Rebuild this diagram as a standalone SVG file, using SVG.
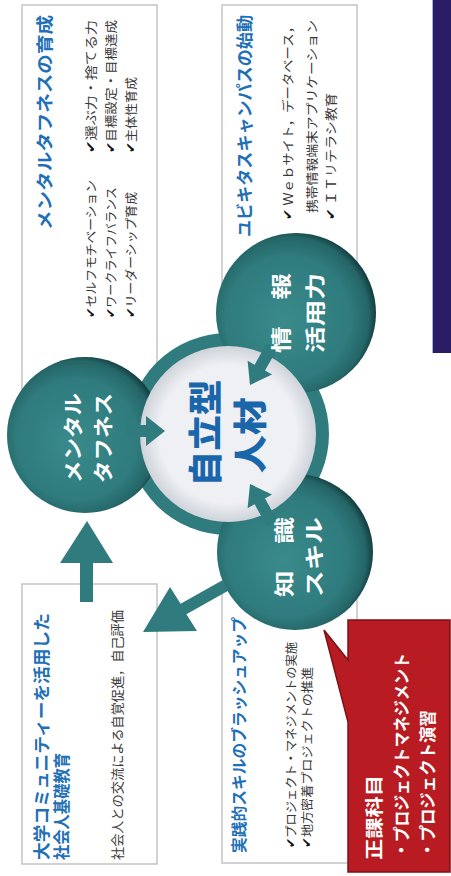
<svg xmlns="http://www.w3.org/2000/svg" width="451" height="876" viewBox="0 0 451 876">
<defs>
<radialGradient id="teal" cx="0.46" cy="0.52" r="0.54" fx="0.42" fy="0.56">
 <stop offset="0" stop-color="#3a8a8c"/>
 <stop offset="0.72" stop-color="#2f7b7d"/>
 <stop offset="0.92" stop-color="#256668"/>
 <stop offset="1" stop-color="#153f41"/>
</radialGradient>
<radialGradient id="light" cx="0.5" cy="0.5" r="0.5">
 <stop offset="0.78" stop-color="#eef0f4"/>
 <stop offset="1" stop-color="#cfd4da"/>
</radialGradient>
<style>
.box{fill:#fff;stroke:#c3c3c3;stroke-width:1.5}
.t{font-family:"Noto Sans CJK JP","DejaVu Sans",sans-serif;dominant-baseline:central}
.ttl{font-size:17px;font-weight:bold;fill:#1f70b6}
.body{font-size:12.5px;fill:#383838}
.ck{font-family:"DejaVu Sans",sans-serif;font-weight:bold;fill:#111}
.ct{font-size:20px;font-weight:bold;fill:#fff;text-anchor:middle}
.big{font-size:34px;font-weight:900;fill:#1a66ab;text-anchor:middle}
.red{font-size:17px;font-weight:bold;fill:#fff}
.teal{fill:#2f7b7d}
</style>
</defs>
<rect width="451" height="876" fill="#fff"/>

<g id="navy-bar">
 <rect x="432" y="0" width="19" height="353" fill="#2a1d66"/>
 <line x1="432.5" y1="0" x2="432.5" y2="353" stroke="#9fb6d6" stroke-width="1"/>
</g>

<g id="box-mental">
 <rect class="box" x="22" y="5" width="135" height="415"/>
 <g transform="translate(0,876) rotate(-90)">
  <text class="t ttl" x="646" y="43" textLength="215" lengthAdjust="spacingAndGlyphs">メンタルタフネスの育成</text>
  <text class="t body" x="558" y="90" textLength="138" lengthAdjust="spacingAndGlyphs"><tspan class="ck">✔</tspan>セルフモチベーション</text>
  <text class="t body" x="558" y="110" textLength="131" lengthAdjust="spacingAndGlyphs"><tspan class="ck">✔</tspan>ワークライフバランス</text>
  <text class="t body" x="558" y="130" textLength="126" lengthAdjust="spacingAndGlyphs"><tspan class="ck">✔</tspan>リーダーシップ育成</text>
  <text class="t body" x="723" y="90" textLength="133" lengthAdjust="spacingAndGlyphs"><tspan class="ck">✔</tspan>選ぶ力・捨てる力</text>
  <text class="t body" x="723" y="110" textLength="133" lengthAdjust="spacingAndGlyphs"><tspan class="ck">✔</tspan>目標設定・目標達成</text>
  <text class="t body" x="723" y="130" textLength="76" lengthAdjust="spacingAndGlyphs"><tspan class="ck">✔</tspan>主体性育成</text>
 </g>
</g>

<g id="box-ubiquitous">
 <rect class="box" x="222" y="5" width="135" height="300"/>
 <g transform="translate(0,876) rotate(-90)">
  <text class="t ttl" x="639" y="243" textLength="222" lengthAdjust="spacingAndGlyphs">ユビキタスキャンパスの始動</text>
  <text class="t body" x="656" y="287" textLength="200" lengthAdjust="spacingAndGlyphs"><tspan class="ck">✔</tspan> Ｗｅｂサイト，データベース，</text>
  <text class="t body" x="663" y="311" textLength="193" lengthAdjust="spacingAndGlyphs">携帯情報端末アプリケーション</text>
  <text class="t body" x="656" y="330" textLength="127" lengthAdjust="spacingAndGlyphs"><tspan class="ck">✔</tspan> ＩＴリテラシ教育</text>
 </g>
</g>

<g id="box-community">
 <rect class="box" x="22" y="584" width="135" height="280"/>
 <g transform="translate(0,876) rotate(-90)">
  <text class="t ttl" x="16" y="40" textLength="247" lengthAdjust="spacingAndGlyphs">大学コミュニティーを活用した</text>
  <text class="t ttl" x="16" y="60" textLength="107" lengthAdjust="spacingAndGlyphs">社会人基礎教育</text>
  <text class="t body" x="16" y="116" style="font-size:13px" textLength="250" lengthAdjust="spacingAndGlyphs">社会人との交流による自覚促進，自己評価</text>
 </g>
</g>

<g id="box-practical">
 <rect class="box" x="222" y="584" width="135" height="279"/>
 <g transform="translate(0,876) rotate(-90)">
  <text class="t ttl" x="23" y="238" style="font-size:16px" textLength="236" lengthAdjust="spacingAndGlyphs">実践的スキルのブラッシュアップ</text>
  <text class="t body" x="28" y="290" textLength="206" lengthAdjust="spacingAndGlyphs"><tspan class="ck">✔</tspan>プロジェクト・マネジメントの実施</text>
  <text class="t body" x="28" y="306" textLength="181" lengthAdjust="spacingAndGlyphs"><tspan class="ck">✔</tspan>地方密着プロジェクトの推進</text>
 </g>
</g>

<g id="center-ring">
 <circle class="teal" cx="228" cy="434" r="101"/>
</g>

<g id="circle-mental">
 <circle cx="85" cy="435" r="78" fill="url(#teal)"/>
</g>
<g id="circle-info">
 <circle cx="296" cy="313" r="80" fill="url(#teal)"/>
</g>
<g id="circle-knowledge">
 <circle cx="295" cy="552" r="78" fill="url(#teal)"/>
</g>

<g id="circle-center">
 <circle cx="228" cy="434" r="88" fill="url(#light)"/>
</g>

<g id="connectors" class="teal">
 <polygon points="126,425 146,425 146,416 165,431 146,446 146,437 126,437"/>
 <polygon points="266.8,343 254.6,364.7 247.6,360.7 250,385 272,374.5 265,370.5 277.3,348.9"/>
 <polygon points="266.8,526.1 254.6,504.3 247.6,508.3 250,484 272,494.5 265,498.5 277.3,520.3"/>
 <polygon points="80,602 93,602 93,563 113,563 87,521 60,563 80,563"/>
 <polygon points="222.4,580.3 180.6,603.8 170,587 143,632 197,631 186.4,614.2 228.2,590.7"/>
</g>

<g id="labels" transform="translate(0,876) rotate(-90)">
 <text class="t ct" x="438" y="72" textLength="90" lengthAdjust="spacingAndGlyphs">メンタル</text>
 <text class="t ct" x="438" y="102" textLength="90" lengthAdjust="spacingAndGlyphs">タフネス</text>
 <text class="t ct" x="563" y="280" textLength="80" lengthAdjust="spacingAndGlyphs">情　報</text>
 <text class="t ct" x="563" y="314" textLength="80" lengthAdjust="spacingAndGlyphs">活用力</text>
 <text class="t ct" x="319" y="283" textLength="80" lengthAdjust="spacingAndGlyphs">知　識</text>
 <text class="t ct" x="319" y="313" textLength="80" lengthAdjust="spacingAndGlyphs">スキル</text>
 <text class="t big" x="443" y="203" textLength="107" lengthAdjust="spacingAndGlyphs">自立型</text>
 <text class="t big" x="441" y="248" textLength="76" lengthAdjust="spacingAndGlyphs">人材</text>
</g>

<g id="callout">
 <path d="M348,620 H450 V872 H348 V722 L324,630 L348,660 Z" fill="#b81c22" stroke="#7e1016" stroke-width="1.5"/>
 <g transform="translate(0,876) rotate(-90)">
  <text class="t red" x="16" y="373" style="font-size:18px" textLength="85" lengthAdjust="spacingAndGlyphs">正課科目</text>
  <text class="t red" x="18" y="400" textLength="205" lengthAdjust="spacingAndGlyphs">・プロジェクトマネジメント</text>
  <text class="t red" x="18" y="426" textLength="148" lengthAdjust="spacingAndGlyphs">・プロジェクト演習</text>
 </g>
</g>
</svg>
